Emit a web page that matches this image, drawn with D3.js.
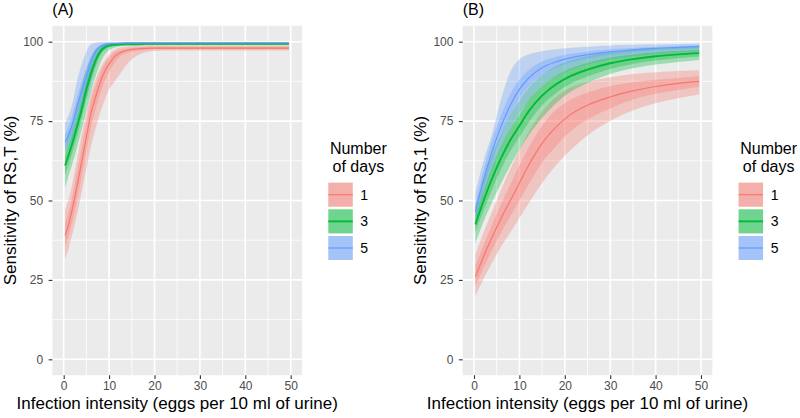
<!DOCTYPE html>
<html><head><meta charset="utf-8">
<script src="https://cdn.jsdelivr.net/npm/d3@7/dist/d3.min.js"></script>
<style>body{margin:0;background:#fff} svg{display:block} text{font-family:"Liberation Sans",Arial,sans-serif}</style>
</head><body><svg id="c" width="800" height="418"></svg>
<script>
// ---------- data ----------
const days = ["1", "3", "5"];
const colors = ["#F8766D", "#00BA38", "#619CFF"];
const xTicks = [0, 10, 20, 30, 40, 50];
const yTicks = [0, 25, 50, 75, 100];
const xMinor = [5, 15, 25, 35, 45];
const yMinor = [12.5, 37.5, 62.5, 87.5];
const xTitle = "Infection intensity (eggs per 10 ml of urine)";
const yTitleA = "Sensitivity of RS,T (%)";
const yTitleB = "Sensitivity of RS,1 (%)";
const legendTitle = ["Number", "of days"];

// Panel A (RS,T)
const xA = [0.3,1,2,3,4,5,6,7,8,9,10,11,12,14,16,18,20,25,30,40,49.6];
const a1Mean = [39,42,48,55,62.5,70,77.5,82.5,87,90.5,93,95,96.2,97.3,97.7,97.9,98,98,98,98,98];
const a1Lo50 = [35.5,38.5,44,50.5,58,65.5,73,78.5,83.5,87.5,90.5,93,94.8,96.5,97.1,97.4,97.6,97.6,97.6,97.6,97.6];
const a1Hi50 = [43,46,52,59.5,67,74.5,81.5,86,90,93,95,96.5,97.2,97.9,98.2,98.3,98.4,98.4,98.4,98.4,98.4];
const a1Lo95 = [31.5,34.5,40,46,53,60,67,72.5,77.5,81.5,85,87,89,93,95.5,96.7,97.1,97.2,97.2,97.2,97.2];
const a1Hi95 = [47,50,56,63.5,71,77.5,83.5,88,91.5,94,96,97.3,98,98.6,98.8,98.9,98.9,98.8,98.8,98.8,98.8];

const a3Mean = [61,64,68.5,73.5,79,85,90,94,96.8,98.2,98.8,99,99.1,99.2,99.2,99.3,99.3,99.3,99.3,99.3,99.3];
const a3Lo50 = [58,61,65.5,70.5,76,82,87.5,92,95.5,97.3,98.2,98.6,98.8,99,99,99.1,99.1,99.1,99.1,99.1,99.1];
const a3Hi50 = [64,67,71.5,76.5,82,87.5,92,95.5,97.8,98.8,99.2,99.3,99.4,99.4,99.4,99.5,99.5,99.5,99.5,99.5,99.5];
const a3Lo95 = [54,57.5,62,67,72.5,78,84,89,93,95.8,97.3,98,98.4,98.8,98.8,98.9,98.9,98.9,98.9,98.9,98.9];
const a3Hi95 = [67.5,70.5,75,80.5,86.5,91.5,95,97.5,98.8,99.4,99.6,99.6,99.6,99.6,99.6,99.7,99.7,99.7,99.7,99.7,99.7];

const a5Mean = [68.5,70.5,74.5,80,84.5,89,93.5,96.8,98.3,99,99.3,99.4,99.5,99.6,99.6,99.6,99.6,99.6,99.6,99.6,99.6];
const a5Lo50 = [67,68.5,72,77,81.5,86.5,91.5,95.5,97.5,98.5,99,99.2,99.3,99.4,99.4,99.4,99.4,99.4,99.4,99.4,99.4];
const a5Hi50 = [71,73,77.5,83,87.5,91.5,95.3,97.8,98.9,99.4,99.6,99.7,99.7,99.8,99.8,99.8,99.8,99.8,99.8,99.8,99.8];
const a5Lo95 = [65,66.5,69.5,73.5,77.5,82,87.5,92.5,96,97.8,98.6,98.9,99.1,99.2,99.2,99.2,99.2,99.2,99.2,99.2,99.2];
const a5Hi95 = [74.5,76.5,81,88,93,97,99.2,99.7,99.8,99.9,99.9,99.9,99.9,99.9,99.9,99.9,99.9,99.9,99.9,99.9,99.9];

// Panel B (RS,1)
const xB = [0.3,2,4,6,8,10,12,15,18,21,25,30,35,40,45,49.6];
const b1Mean = [26,32,38.5,44.5,50,55.5,61,68,73,76.8,80,82.6,84.5,85.9,86.9,87.5];
const b1Lo50 = [23,28.5,34.5,40,45,50,55,62,67,71.5,75.5,79,81.8,83.6,84.8,85.8];
const b1Hi50 = [29.5,35.5,42.5,49,55,61,66.5,73.5,78.5,81.5,84,86,87.2,88,88.6,89.1];
const b1Lo95 = [20,25,30.5,35.5,40,44.5,49,55.5,61,65.5,70.5,75,78.3,80.6,82.2,83.4];
const b1Hi95 = [33,39.5,46.5,53.5,60,66,71.5,78,82.5,85.3,87.3,88.8,89.8,90.4,90.8,91];

const b3Mean = [42.5,49.5,57,63.5,69,73.5,78,83,86.5,89,91.2,93.2,94.5,95.4,96,96.4];
const b3Lo50 = [40,46.5,53.5,60,65.5,70,74.5,80,83.8,86.6,89,91.4,93,94.1,94.8,95.3];
const b3Hi50 = [45.5,52.5,60.5,67,72.5,77,81.5,86,89.2,91.4,93.3,95,96,96.7,97.1,97.4];
const b3Lo95 = [36.5,43,49.5,55.5,61,66,70.5,76,80.5,84,87,89.8,91.6,92.8,93.6,94.2];
const b3Hi95 = [48,56,64.5,71,77,81.5,85.5,89.5,92.3,94,95.5,96.8,97.6,98,98.3,98.4];

const b5Mean = [46.5,56,65.5,73.5,80,85,88.5,91.8,93.6,94.8,95.9,96.8,97.4,97.9,98.2,98.5];
const b5Lo50 = [44.5,53.5,62.5,70.5,77,82,85.8,89.5,91.8,93.3,94.7,95.9,96.7,97.2,97.6,97.9];
const b5Hi50 = [49,59,69,77,83.5,88,91,93.8,95.2,96.1,96.9,97.6,98,98.4,98.7,98.9];
const b5Lo95 = [42.5,51,59.5,66.5,72.5,77.5,81.5,86,89,91,92.8,94.4,95.4,96.1,96.6,97];
const b5Hi95 = [52.5,62,71,82,90.5,94.5,96,97,97.6,98,98.4,98.8,99,99.2,99.3,99.4];

// ---------- drawing ----------
const svg = d3.select("#c");
const panelTop = 25.8, panelBottom = 375.2;
const bandAlpha = 0.32;

function seriesOf(xs, m, l50, h50, l95, h95) {
  return xs.map((x, i) => ({x, m: m[i], l50: l50[i], h50: h50[i], l95: l95[i], h95: h95[i]}));
}

function drawPanel(opt) {
  const x = d3.scaleLinear().domain([-2.5, 52.5]).range([opt.left, opt.right]);
  const y = d3.scaleLinear().domain([-5, 105]).range([panelBottom, panelTop]);
  const g = svg.append("g");
  g.append("rect").attr("x", opt.left).attr("y", panelTop)
    .attr("width", opt.right - opt.left).attr("height", panelBottom - panelTop).attr("fill", "#EBEBEB");
  g.selectAll(".vmin").data(xMinor).join("line")
    .attr("x1", d => x(d)).attr("x2", d => x(d)).attr("y1", panelTop).attr("y2", panelBottom)
    .attr("stroke", "#fff").attr("stroke-width", 0.8);
  g.selectAll(".hmin").data(yMinor).join("line")
    .attr("y1", d => y(d)).attr("y2", d => y(d)).attr("x1", opt.left).attr("x2", opt.right)
    .attr("stroke", "#fff").attr("stroke-width", 0.8);
  g.selectAll(".vmaj").data(xTicks).join("line")
    .attr("x1", d => x(d)).attr("x2", d => x(d)).attr("y1", panelTop).attr("y2", panelBottom)
    .attr("stroke", "#fff").attr("stroke-width", 1.6);
  g.selectAll(".hmaj").data(yTicks).join("line")
    .attr("y1", d => y(d)).attr("y2", d => y(d)).attr("x1", opt.left).attr("x2", opt.right)
    .attr("stroke", "#fff").attr("stroke-width", 1.6);

  const area95 = d3.area().x(d => x(d.x)).y0(d => y(d.l95)).y1(d => y(d.h95)).curve(d3.curveMonotoneX);
  const area50 = d3.area().x(d => x(d.x)).y0(d => y(d.l50)).y1(d => y(d.h50)).curve(d3.curveMonotoneX);
  const line = d3.line().x(d => x(d.x)).y(d => y(d.m)).curve(d3.curveMonotoneX);

  opt.series.forEach((s, i) => g.append("path").attr("d", area95(s)).attr("fill", colors[i]).attr("fill-opacity", bandAlpha));
  opt.series.forEach((s, i) => g.append("path").attr("d", area50(s)).attr("fill", colors[i]).attr("fill-opacity", bandAlpha));
  opt.series.forEach((s, i) => g.append("path").attr("d", line(s)).attr("fill", "none")
    .attr("stroke", colors[i]).attr("stroke-width", i === 1 ? 1.9 : 1.2));

  const xa = g.append("g").attr("transform", `translate(0,${panelBottom})`)
    .call(d3.axisBottom(x).tickValues(xTicks).tickSize(3.7).tickPadding(3).tickFormat(d3.format("d")));
  const ya = g.append("g").attr("transform", `translate(${opt.left},0)`)
    .call(d3.axisLeft(y).tickValues(yTicks).tickSize(3.7).tickPadding(5.5).tickFormat(d3.format("d")));
  [xa, ya].forEach(a => {
    a.select(".domain").remove();
    a.selectAll(".tick line").attr("stroke", "#333333").attr("stroke-width", 1.1);
    a.selectAll(".tick text").attr("fill", "#4D4D4D").style("font-size", "12px")
      .style("font-family", '"Liberation Sans", Arial, sans-serif');
  });

  g.append("text").attr("x", (opt.left + opt.right) / 2).attr("y", 408.5).attr("text-anchor", "middle")
    .style("font-size", "17px").attr("fill", "#000").text(xTitle);
  g.append("text").attr("transform", `translate(${opt.yTitleX},${(panelTop + panelBottom) / 2}) rotate(-90)`)
    .attr("text-anchor", "middle").style("font-size", "17px").attr("fill", "#000").text(opt.yTitle);
  g.append("text").attr("x", opt.left).attr("y", 15).style("font-size", "16px").attr("fill", "#000").text(opt.tag);

  const kl = opt.right + 26.3;
  g.selectAll(".lt").data(legendTitle).join("text")
    .attr("x", kl + 30).attr("y", (d, i) => 153.5 + i * 18.5).attr("text-anchor", "middle")
    .style("font-size", "16px").attr("fill", "#000").text(d => d);
  days.forEach((d, i) => {
    const ky = 182.7 + i * 26.65;
    const kg = g.append("g");
    kg.append("rect").attr("x", kl).attr("y", ky).attr("width", 24.4).attr("height", 24).attr("fill", "#F2F2F2");
    kg.append("rect").attr("x", kl).attr("y", ky).attr("width", 24.4).attr("height", 24).attr("fill", colors[i]).attr("fill-opacity", bandAlpha);
    kg.append("rect").attr("x", kl).attr("y", ky).attr("width", 24.4).attr("height", 24).attr("fill", colors[i]).attr("fill-opacity", bandAlpha);
    kg.append("line").attr("x1", kl).attr("x2", kl + 24.4).attr("y1", ky + 12).attr("y2", ky + 12)
      .attr("stroke", colors[i]).attr("stroke-width", i === 1 ? 1.9 : 1.2);
    kg.append("text").attr("x", kl + 32).attr("y", ky + 17).style("font-size", "14px").attr("fill", "#000").text(d);
  });
}

drawPanel({
  left: 52.35, right: 302.05, tag: "(A)", yTitle: yTitleA, yTitleX: 15.5,
  series: [seriesOf(xA, a1Mean, a1Lo50, a1Hi50, a1Lo95, a1Hi95),
           seriesOf(xA, a3Mean, a3Lo50, a3Hi50, a3Lo95, a3Hi95),
           seriesOf(xA, a5Mean, a5Lo50, a5Hi50, a5Lo95, a5Hi95)]
});
drawPanel({
  left: 462.65, right: 712.35, tag: "(B)", yTitle: yTitleB, yTitleX: 425.5,
  series: [seriesOf(xB, b1Mean, b1Lo50, b1Hi50, b1Lo95, b1Hi95),
           seriesOf(xB, b3Mean, b3Lo50, b3Hi50, b3Lo95, b3Hi95),
           seriesOf(xB, b5Mean, b5Lo50, b5Hi50, b5Lo95, b5Hi95)]
});
</script></body></html>
